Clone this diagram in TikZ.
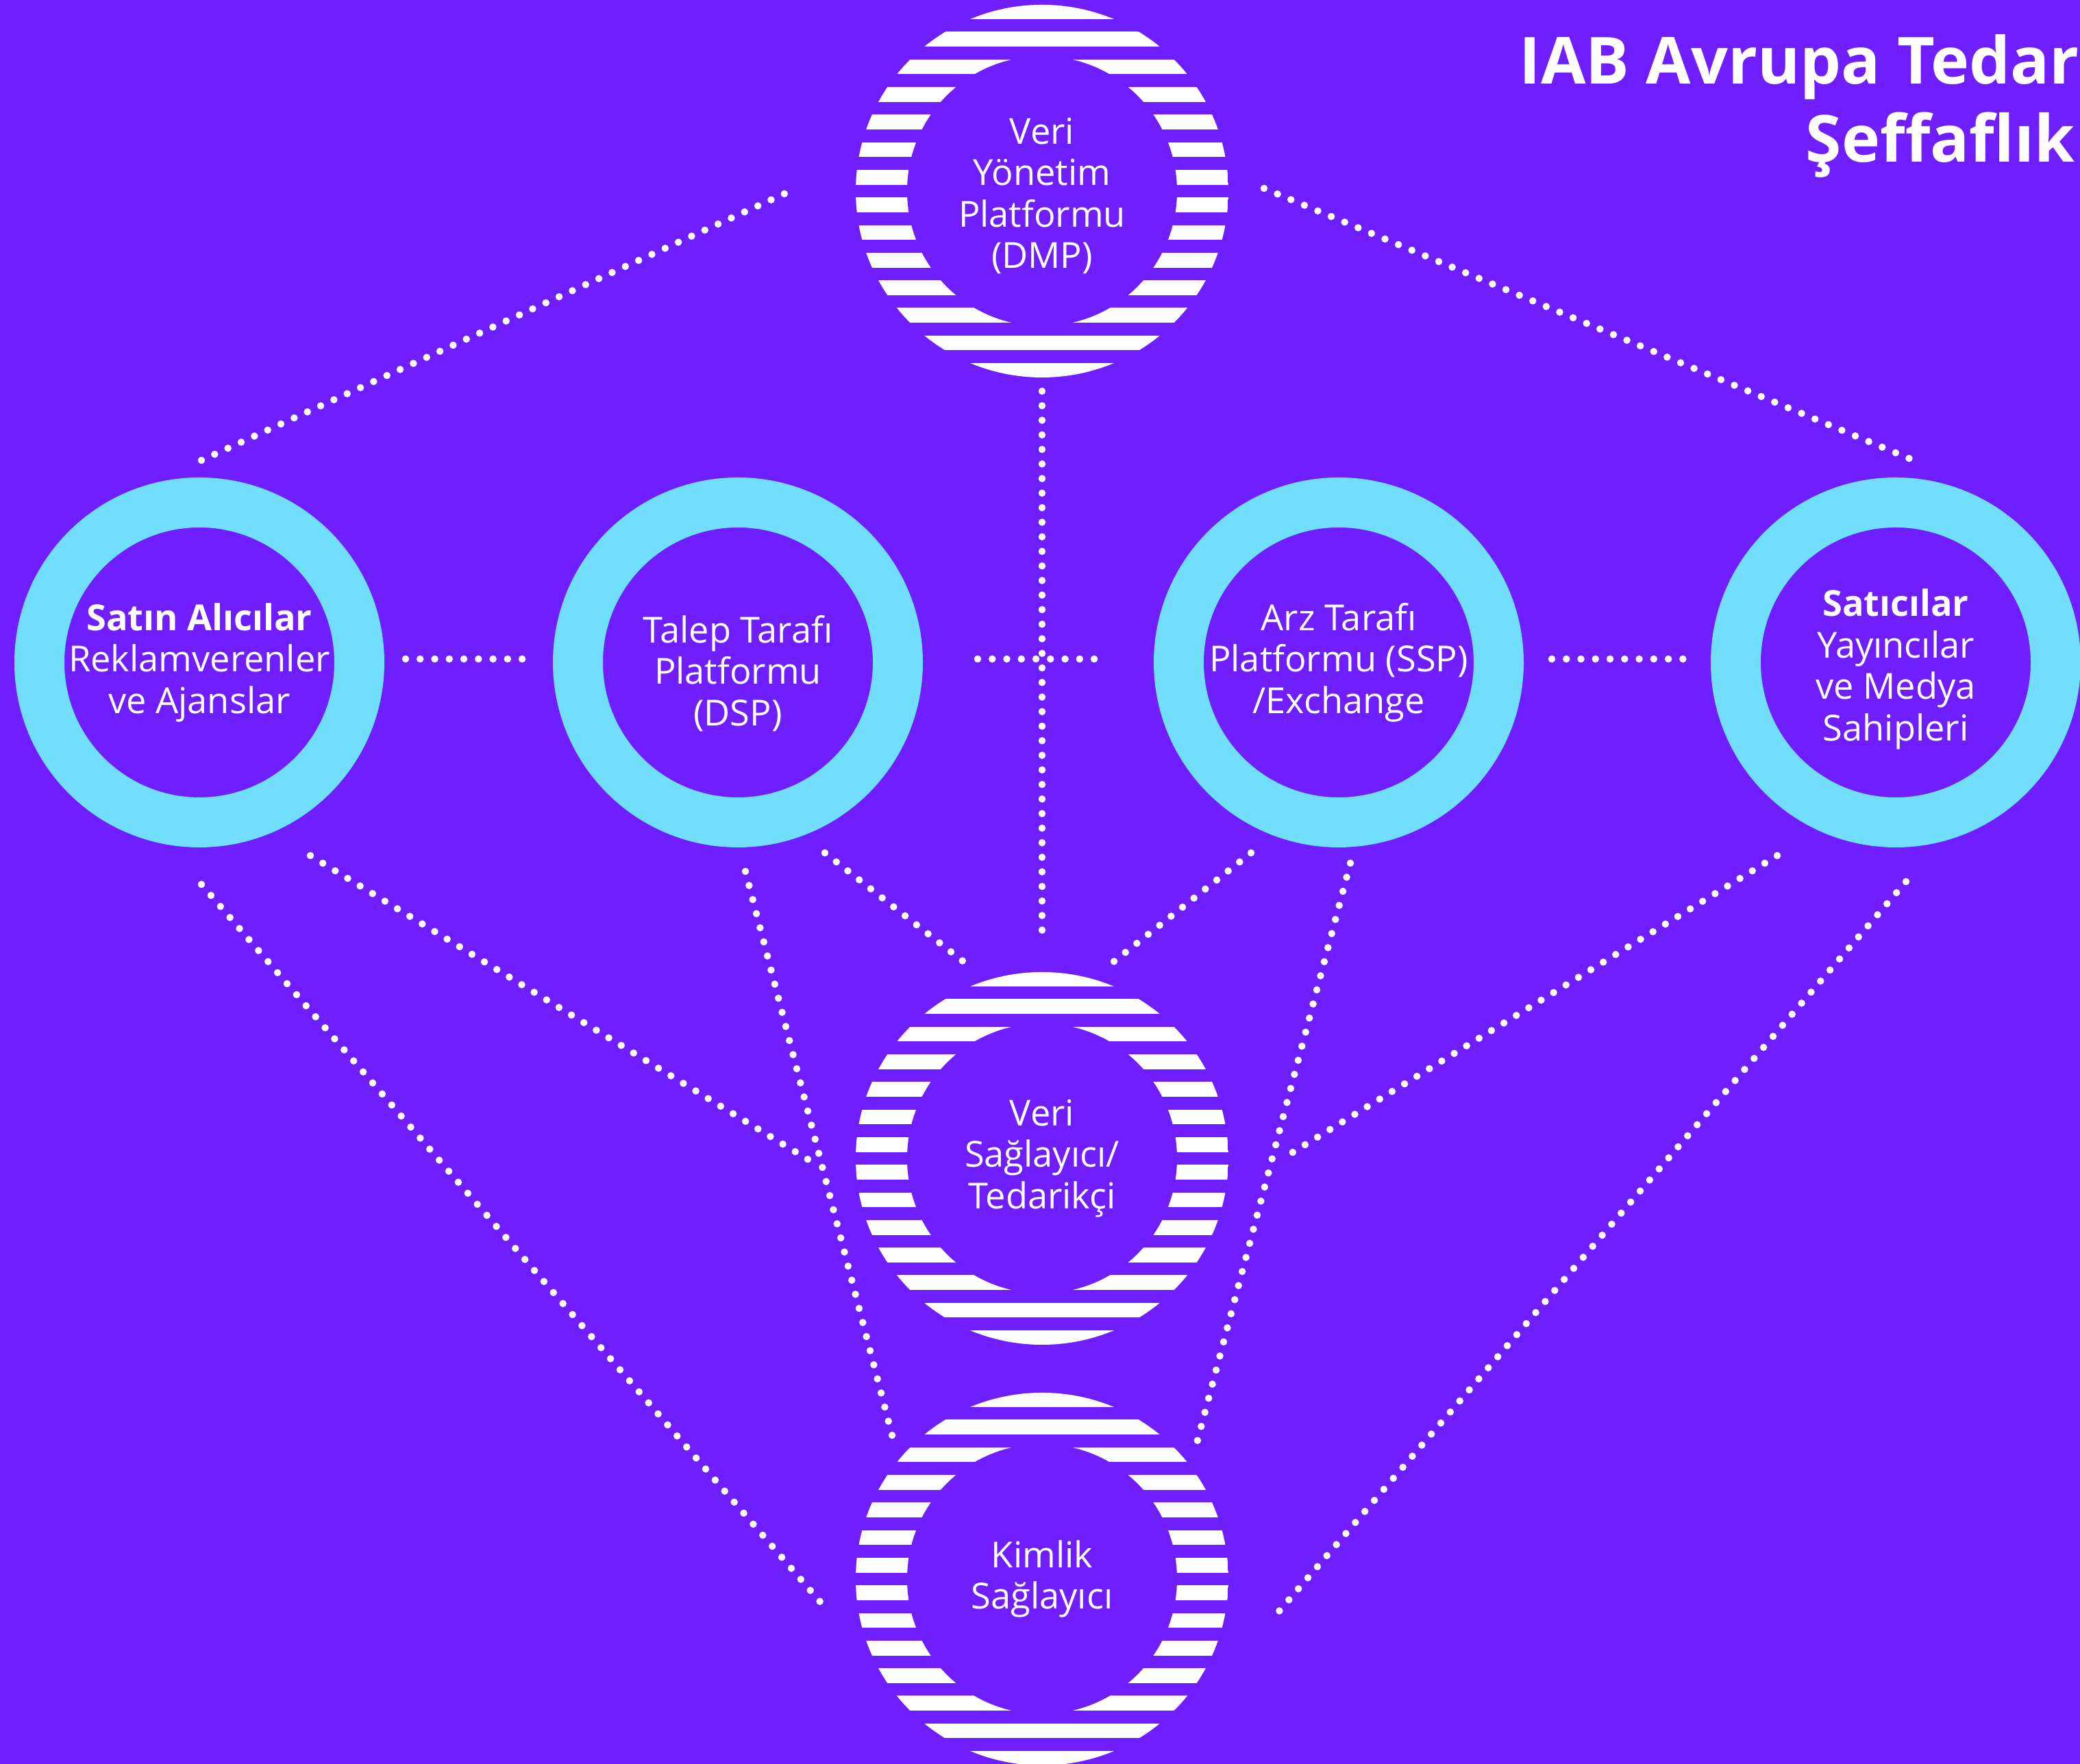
\documentclass[tikz,border=0pt]{standalone}
\usepackage{fontspec}
\setmainfont{Open Sans}
\usetikzlibrary{positioning,calc}
\definecolor{bgpurple}{HTML}{6E1EFF}
\definecolor{ringcyan}{HTML}{72DEFD}
\tikzset{
  ring/.style={circle, draw=ringcyan, line width=0.73cm, minimum size=4.67cm, inner sep=0pt},
  stripes/.style={circle, minimum size=5.44cm, inner sep=0pt,
    path picture={
      \foreach \k in {0,...,13}
        \fill[white] ([yshift={(\k-6.5)*0.403cm-0.1085cm}]path picture bounding box.west)
          rectangle ++(5.44cm,0.217cm);
      \fill[bgpurple] (path picture bounding box.center) circle (1.97cm);
    }},
  txt/.style={align=center, text=white, inner sep=0pt, font=\fontsize{14.9}{17.2}\selectfont},
  dotline/.style={white, line width=3pt, line cap=round, dash pattern=on 0pt off 6.05pt},
  heading/.style={text=white, inner sep=0pt, anchor=base west,
    font=\fontsize{27}{32.4}\selectfont\bfseries}
}
\begin{document}
\begin{tikzpicture}
  \clip (0,0) rectangle (30.36,25.75);
  \fill[bgpurple] (0,0) rectangle (30.36,25.75);
% Title (runs off the page)
  \node[heading] (ttl1) at (22.17,24.52) {IAB Avrupa Tedar};
  \node[heading] (ttl2) at (26.35,23.38) {Şeffaflık};
% Middle row
  \node[ring] (buy) at (2.91,16.08) {};
  \node[ring] (dsp) at (10.77,16.08) {};
  \node[ring] (ssp) at (19.54,16.08) {};
  \node[ring] (sell) at (27.67,16.08) {};
  \node[txt] (buytxt) at (buy) {{\bfseries Satın Alıcılar}\\Reklamverenler\\ve Ajanslar};
  \node[txt] (dsptxt) at ([yshift=-0.16cm]dsp) {Talep Tarafı\\Platformu\\(DSP)};
  \node[txt] (ssptxt) at (ssp) {Arz Tarafı\\Platformu (SSP)\\/Exchange};
  \node[txt] (selltxt) at ([yshift=-0.1cm]sell) {{\bfseries Satıcılar}\\Yayıncılar\\ve Medya\\Sahipleri};
% Striped circles
  \node[stripes] (dmp) at (15.21,22.96) {};
  \node[stripes] (dat) at (15.21,8.84) {};
  \node[stripes] (idp) at (15.21,2.70) {};
  \node[txt] (dmptxt) at ([yshift=-0.07cm]dmp) {Veri\\Yönetim\\Platformu\\(DMP)};
  \node[txt] (dattxt) at (dat) {Veri\\Sağlayıcı/\\Tedarikçi};
  \node[txt] (idptxt) at (idp) {Kimlik\\Sağlayıcı};
% DMP links
  \draw[dotline] ([shift={(0.03,2.95)}]buy.center) -- ([shift={(-3.59,0.04)}]dmp.center);
  \draw[dotline] ([shift={(3.24,0.04)}]dmp.center) -- ([shift={(0.31,2.93)}]sell.center);
  \draw[dotline] ([shift={(0,-2.92)}]dmp.center) -- ([shift={(0,3.20)}]dat.center);
% Row links
  \draw[dotline] ([shift={(3.01,0.05)}]buy.center) -- ([shift={(-3.07,0.05)}]dsp.center);
  \draw[dotline] ([shift={(3.50,0.05)}]dsp.center) -- ([shift={(-3.47,0.05)}]ssp.center);
  \draw[dotline] ([shift={(3.11,0.05)}]ssp.center) -- ([shift={(-2.98,0.05)}]sell.center);
% Down to data and identity providers
  \draw[dotline] ([shift={(1.62,-2.82)}]buy.center) -- ([shift={(-3.36,-0.05)}]dat.center);
  \draw[dotline] ([shift={(0.03,-3.24)}]buy.center) -- ([shift={(-3.12,-0.47)}]idp.center);
  \draw[dotline] ([shift={(1.27,-2.78)}]dsp.center) -- ([shift={(-1.08,2.82)}]dat.center);
  \draw[dotline] ([shift={(0.11,-3.05)}]dsp.center) -- ([shift={(-2.15,1.95)}]idp.center);
  \draw[dotline] ([shift={(-1.28,-2.78)}]ssp.center) -- ([shift={(0.98,2.82)}]dat.center);
  \draw[dotline] ([shift={(0.17,-2.93)}]ssp.center) -- ([shift={(2.26,1.99)}]idp.center);
  \draw[dotline] ([shift={(-1.73,-2.82)}]sell.center) -- ([shift={(3.53,0.01)}]dat.center);
  \draw[dotline] ([shift={(0.15,-3.20)}]sell.center) -- ([shift={(3.46,-0.47)}]idp.center);
\end{tikzpicture}
\end{document}
